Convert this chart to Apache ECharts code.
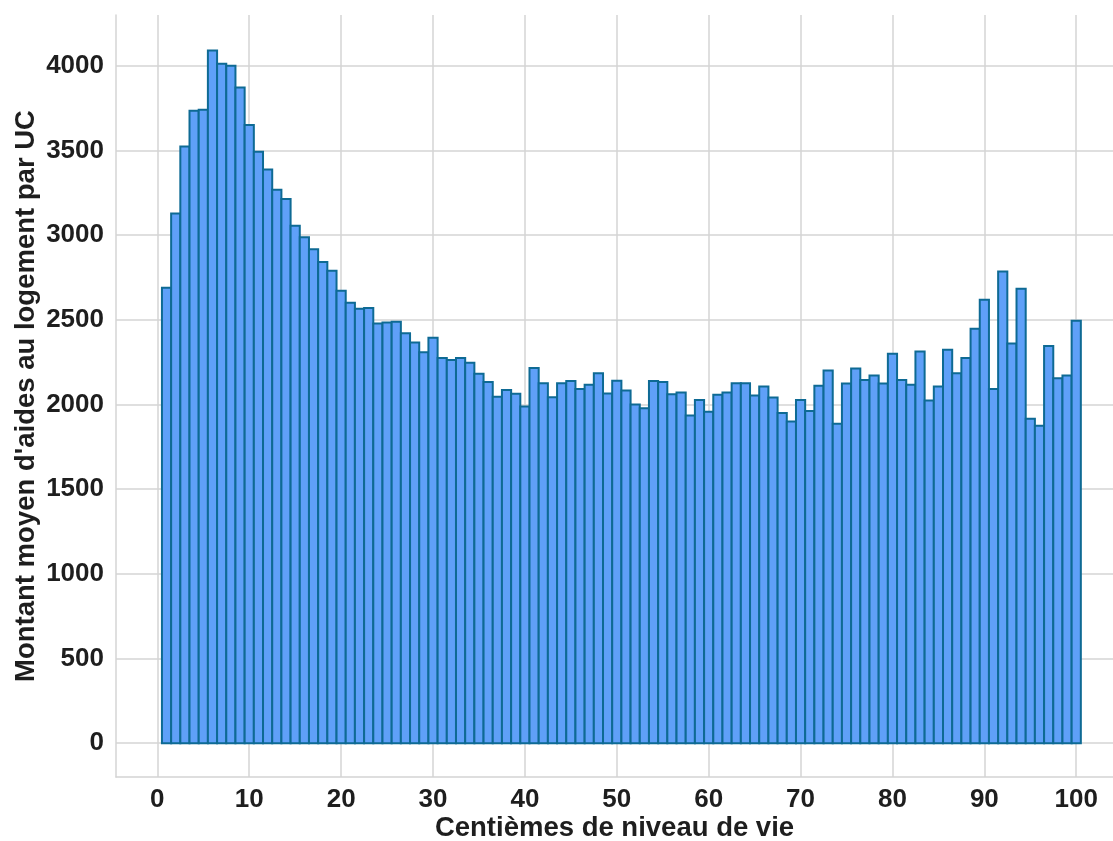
<!DOCTYPE html>
<html>
<head>
<meta charset="utf-8">
<script src="https://cdn.jsdelivr.net/npm/echarts@6/dist/echarts.min.js"></script>
<style>
html,body{margin:0;padding:0;background:#fff;}
#chart{width:1113px;height:841px;}
</style>
</head>
<body>
<div id="chart"></div>
<script>
const centiles = [1,2,3,4,5,6,7,8,9,10,11,12,13,14,15,16,17,18,19,20,21,22,23,24,25,26,27,28,29,30,31,32,33,34,35,36,37,38,39,40,41,42,43,44,45,46,47,48,49,50,51,52,53,54,55,56,57,58,59,60,61,62,63,64,65,66,67,68,69,70,71,72,73,74,75,76,77,78,79,80,81,82,83,84,85,86,87,88,89,90,91,92,93,94,95,96,97,98,99,100];
const montants = [2689,3128,3523,3734,3740,4090,4012,4000,3872,3651,3492,3388,3268,3213,3055,2987,2917,2841,2789,2671,2600,2565,2569,2478,2484,2488,2421,2366,2309,2394,2275,2262,2275,2246,2181,2132,2046,2086,2063,1988,2216,2126,2043,2126,2138,2091,2116,2185,2065,2140,2083,2000,1978,2138,2132,2061,2071,1935,2027,1957,2057,2071,2126,2126,2053,2106,2041,1949,1899,2027,1962,2110,2200,1886,2124,2212,2144,2171,2124,2299,2145,2116,2313,2023,2106,2323,2185,2274,2447,2618,2092,2785,2360,2683,1915,1874,2346,2155,2171,2494];
const xTicks = [0,10,20,30,40,50,60,70,80,90,100];
const yTicks = [0,500,1000,1500,2000,2500,3000,3500,4000];
const xTitle = 'Centièmes de niveau de vie';
const yTitle = "Montant moyen d'aides au logement par UC";

const data = centiles.map((c, i) => [c, montants[i]]);
const chart = echarts.init(document.getElementById('chart'), null, {renderer: 'canvas'});
const gridColor = '#d4d4d4';
const textColor = '#1e1e1e';
const font = 'Liberation Sans, Arial, sans-serif';
chart.setOption({
  animation: false,
  backgroundColor: '#ffffff',
  grid: {left: 116, right: 0, top: 15, bottom: 64, containLabel: false, outerBoundsMode: 'none'},
  xAxis: {
    type: 'value', min: -4.5, max: 104,
    name: xTitle, nameLocation: 'middle', nameGap: 37, nameMoveOverlap: false,
    nameTextStyle: {fontSize: 27.5, fontWeight: 'bold', color: textColor, fontFamily: font},
    axisLine: {show: true, onZero: false, lineStyle: {color: gridColor, width: 1.5}},
    axisTick: {show: false, customValues: xTicks},
    axisLabel: {customValues: xTicks, fontSize: 26, fontWeight: 'bold', color: textColor, fontFamily: font, margin: 10,
      formatter: v => String(v)},
    splitLine: {show: true, lineStyle: {color: gridColor, width: 1.5}}
  },
  yAxis: {
    type: 'value', min: -200, max: 4300,
    name: yTitle, nameLocation: 'middle', nameGap: 76, nameMoveOverlap: false,
    nameTextStyle: {fontSize: 27.5, fontWeight: 'bold', color: textColor, fontFamily: font},
    axisLine: {show: true, onZero: false, lineStyle: {color: gridColor, width: 1.5}},
    axisTick: {show: false, customValues: yTicks},
    axisLabel: {customValues: yTicks, fontSize: 26, fontWeight: 'bold', color: textColor, fontFamily: font, margin: 12,
      formatter: v => String(v)},
    splitLine: {show: true, lineStyle: {color: gridColor, width: 1.5}}
  },
  series: [{
    type: 'custom',
    data: data,
    renderItem: function (params, api) {
      const x = api.value(0), y = api.value(1);
      const p0 = api.coord([x - 0.5, y]);
      const p1 = api.coord([x + 0.5, 0]);
      return {
        type: 'rect',
        shape: {x: p0[0], y: p0[1], width: p1[0] - p0[0], height: p1[1] - p0[1]},
        style: {fill: '#5fa0f8', stroke: '#0e6a94', lineWidth: 2}
      };
    }
  }]
});
</script>
</body>
</html>
